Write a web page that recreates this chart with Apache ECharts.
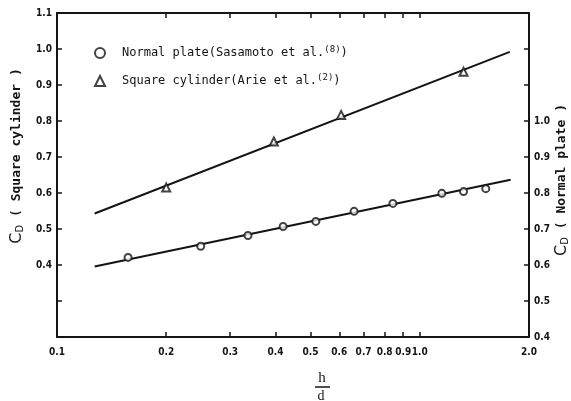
<!DOCTYPE html>
<html><head><meta charset="utf-8">
<script src="https://cdn.jsdelivr.net/npm/echarts@6/dist/echarts.min.js"></script>
<style>html,body{margin:0;padding:0;background:#fff}#c{width:571px;height:401px}</style>
</head><body><div id="c"></div>
<script>
// ---- data ----
const xMin = 0.1, xMax = 2.0;
const xTickValues = [0.2, 0.3, 0.4, 0.5, 0.6, 0.7, 0.8, 0.9, 1.0];
const xTickLabels = [0.1, 0.2, 0.3, 0.4, 0.5, 0.6, 0.7, 0.8, 0.9, 1.0, 2.0];
const leftMin = 0.2, leftMax = 1.1;
const leftTicks = [0.3, 0.4, 0.5, 0.6, 0.7, 0.8, 0.9, 1.0];
const leftTickLabels = [0.4, 0.5, 0.6, 0.7, 0.8, 0.9, 1.0, 1.1];
const rightMin = 0.4, rightMax = 1.3;
const rightTicks = [0.5, 0.6, 0.7, 0.8, 0.9, 1.0, 1.1, 1.2];
const rightTickLabels = [0.4, 0.5, 0.6, 0.7, 0.8, 0.9, 1.0];

const plateH  = [0.157, 0.249, 0.336, 0.42, 0.517, 0.659, 0.843, 1.15, 1.32, 1.52];
const plateCd = [0.621, 0.652, 0.682, 0.707, 0.721, 0.749, 0.771, 0.799, 0.804, 0.812];
const cylH  = [0.2, 0.396, 0.607, 1.32];
const cylCd = [0.615, 0.743, 0.817, 0.937];
const plateFitH = [0.127, 1.78], plateFitCd = [0.596, 0.837];
const cylFitH = [0.127, 1.77], cylFitCd = [0.543, 0.992];

const legendNames = ['Normal plate', 'Square cylinder'];
const legendText = {
  'Normal plate': ['Normal plate(Sasamoto et al.', '(8)', ')'],
  'Square cylinder': ['Square cylinder(Arie et al.', '(2)', ')']
};

// ---- chart ----
const ink = '#141414';
const lblFont = '"Liberation Sans Narrow","DejaVu Sans Condensed","DejaVu Sans",sans-serif';
const pair = (a, b) => a.map((v, i) => [v, b[i]]);
const lg = v => Math.log10(v);

const chart = echarts.init(document.getElementById('c'), null, {renderer: 'canvas'});
const axisLine = {show: true, onZero: false, lineStyle: {color: ink, width: 2}};
const tickStyle = {color: ink, width: 1.5};
const labelStyle = {color: ink, fontSize: 10, fontWeight: 'bold', fontFamily: lblFont};
const nameRich = {
  c: {fontSize: 16, fontFamily: 'DejaVu Sans', fill: ink},
  d: {fontSize: 10, fontFamily: 'DejaVu Sans', fill: ink, padding: [6, 0, 0, 0]},
  t: {fontSize: 13, fontFamily: '"DejaVu Sans Mono",monospace', fontWeight: 'bold', fill: ink}
};

chart.setOption({
  backgroundColor: '#fff',
  animation: false,
  grid: {left: 57, right: 42, top: 13, bottom: 64},
  legend: {
    data: legendNames, orient: 'vertical', left: 89, top: 40,
    itemWidth: 10, itemHeight: 10, itemGap: 14,
    formatter: n => '{g|}{t|' + legendText[n][0] + '}{s|' + legendText[n][1] + '}{t|' + legendText[n][2] + '}',
    textStyle: {
      rich: {
        g: {width: 12},
        t: {fontFamily: '"DejaVu Sans Mono",monospace', fontSize: 12, color: ink},
        s: {fontFamily: '"DejaVu Sans Mono",monospace', fontSize: 9, color: ink, padding: [0, 0, 7, 0]}
      }
    }
  },
  xAxis: [
    {type: 'log', logBase: 10, min: xMin, max: xMax, position: 'bottom',
     axisLine: axisLine, axisTick: {show: false}, axisLabel: {show: false}, splitLine: {show: false}},
    {type: 'value', min: lg(xMin), max: lg(xMax), position: 'bottom',
     axisLine: {show: false, onZero: false},
     axisTick: {inside: true, length: 5, lineStyle: tickStyle, customValues: xTickValues.map(lg)},
     axisLabel: Object.assign({margin: 10, customValues: xTickLabels.map(lg),
       formatter: v => Math.pow(10, v).toFixed(1)}, labelStyle),
     splitLine: {show: false}},
    {type: 'value', min: lg(xMin), max: lg(xMax), position: 'top',
     axisLine: axisLine,
     axisTick: {inside: true, length: 5, lineStyle: tickStyle, customValues: xTickValues.map(lg)},
     axisLabel: {show: false}, splitLine: {show: false}}
  ],
  yAxis: [
    {type: 'value', min: leftMin, max: leftMax, position: 'left',
     axisLine: axisLine,
     axisTick: {inside: true, length: 5, lineStyle: tickStyle, customValues: leftTicks},
     axisLabel: Object.assign({margin: 5, customValues: leftTickLabels, formatter: v => v.toFixed(1)}, labelStyle),
     splitLine: {show: false}},
    {type: 'value', min: rightMin, max: rightMax, position: 'right',
     axisLine: axisLine,
     axisTick: {inside: true, length: 5, lineStyle: tickStyle, customValues: rightTicks},
     axisLabel: Object.assign({margin: 5, customValues: rightTickLabels, formatter: v => v.toFixed(1)}, labelStyle),
     splitLine: {show: false}}
  ],
  series: [
    {name: 'cylFit', type: 'line', xAxisIndex: 0, yAxisIndex: 0, data: pair(cylFitH, cylFitCd),
     symbol: 'none', lineStyle: {color: ink, width: 2}, z: 2},
    {name: 'plateFit', type: 'line', xAxisIndex: 0, yAxisIndex: 1, data: pair(plateFitH, plateFitCd),
     symbol: 'none', lineStyle: {color: ink, width: 2}, z: 2},
    {name: 'Normal plate', type: 'scatter', xAxisIndex: 0, yAxisIndex: 1, data: pair(plateH, plateCd),
     symbol: 'emptyCircle', symbolSize: 7, itemStyle: {color: ink, borderColor: ink, borderWidth: 1.5}, z: 3},
    {name: 'Square cylinder', type: 'scatter', xAxisIndex: 0, yAxisIndex: 0, data: pair(cylH, cylCd),
     symbol: 'emptyTriangle', symbolSize: 8, itemStyle: {color: ink, borderColor: ink, borderWidth: 2}, z: 3}
  ],
  graphic: [
    {type: 'text', x: 17, y: 156, rotation: Math.PI / 2,
     style: {text: '{c|C}{d|D}{t| ( Square cylinder )}', align: 'center', verticalAlign: 'middle', rich: nameRich}},
    {type: 'text', x: 562, y: 180, rotation: Math.PI / 2,
     style: {text: '{c|C}{d|D}{t| ( Normal plate )}', align: 'center', verticalAlign: 'middle', rich: nameRich}},
    {type: 'text', x: 322, y: 378,
     style: {text: 'h', fontSize: 15, fontFamily: '"Liberation Serif",serif', fill: ink, align: 'center', verticalAlign: 'middle'}},
    {type: 'line', shape: {x1: 315, y1: 387, x2: 330, y2: 387}, style: {stroke: ink, lineWidth: 1.5}},
    {type: 'text', x: 321, y: 396,
     style: {text: 'd', fontSize: 14, fontFamily: '"Liberation Serif",serif', fill: ink, align: 'center', verticalAlign: 'middle'}}
  ]
});
</script></body></html>
